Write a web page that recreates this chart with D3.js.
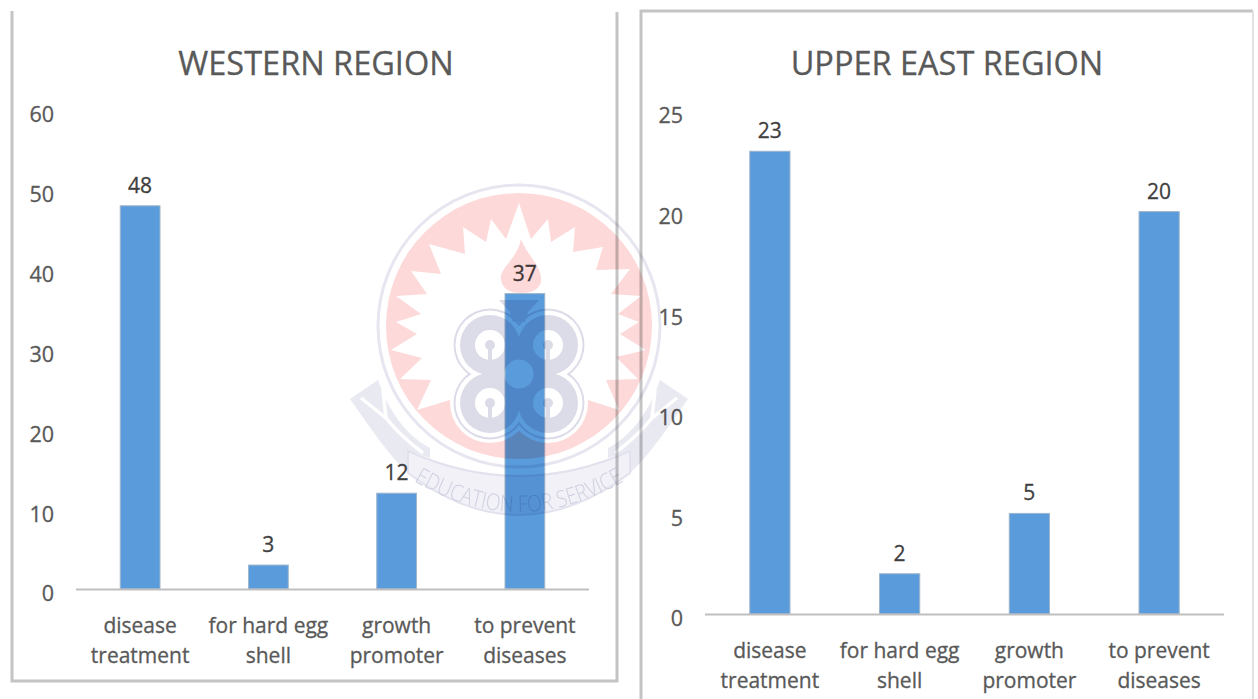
<!DOCTYPE html>
<html>
<head>
<meta charset="utf-8">
<script src="https://cdn.jsdelivr.net/npm/d3@7/dist/d3.min.js"></script>
<style>
html, body { margin: 0; padding: 0; background: #fff; }
svg { display: block; }
text { font-family: "Open Sans", sans-serif; fill: #595959; }
</style>
</head>
<body>
<svg id="chart" width="1258" height="699"></svg>
<script>
// Reasons for antibiotic use, by region
const categories = [["disease", "treatment"], ["for hard egg", "shell"], ["growth", "promoter"], ["to prevent", "diseases"]];
const westernValues = [48, 3, 12, 37];
const upperEastValues = [23, 2, 5, 20];
const westernTicks = [0, 10, 20, 30, 40, 50, 60];
const upperEastTicks = [0, 5, 10, 15, 20, 25];

const svg = d3.select("#chart");
const heavier = sel => sel.style("stroke", "currentColor").style("stroke-width", 0.3);

function drawPanel(cfg) {
  const g = svg.append("g");
  const x = d3.scaleBand().domain(d3.range(cfg.values.length)).range([cfg.x0, cfg.x1]).paddingInner(0.69).paddingOuter(0.345);
  const y = d3.scaleLinear().domain(cfg.domain).range([cfg.y0, cfg.yTop]);

  g.append("text").attr("x", cfg.titleX).attr("y", 75).attr("text-anchor", "middle")
    .attr("font-size", 32.5).style("fill", "#595959").style("color", "#595959").call(heavier).text(cfg.title);

  // value axis: labels only, no axis line
  const yAxis = d3.axisLeft(y).tickValues(cfg.ticks).tickSize(0).tickPadding(0);
  const ya = g.append("g").attr("transform", `translate(${cfg.labelX},${cfg.labelDy})`).call(yAxis);
  ya.select(".domain").remove();
  ya.selectAll("text").attr("font-size", 21.5).style("font-family", '"Open Sans", sans-serif')
    .style("fill", "#595959").style("color", "#595959").call(heavier);

  g.selectAll("rect.bar").data(cfg.values).join("rect").attr("class", "bar")
    .attr("x", (d, i) => x(i)).attr("width", x.bandwidth())
    .attr("y", d => y(d)).attr("height", d => cfg.y0 - y(d))
    .attr("fill", "#5a9bdb").attr("stroke", "#9fb6cc").attr("stroke-width", 1);

  g.append("line").attr("x1", cfg.x0).attr("x2", cfg.x1).attr("y1", cfg.y0 + 0.5).attr("y2", cfg.y0 + 0.5)
    .attr("stroke", "#bfbfbf").attr("stroke-width", 2);

  g.selectAll("text.val").data(cfg.values).join("text").attr("class", "val")
    .attr("x", (d, i) => x(i) + x.bandwidth() / 2).attr("y", d => y(d) - 13)
    .attr("text-anchor", "middle").attr("font-size", 21).style("fill", "#404040").style("color", "#404040")
    .call(heavier).text(d => d);

  const cats = g.selectAll("text.cat").data(categories).join("text").attr("class", "cat")
    .attr("text-anchor", "middle").attr("font-size", 21).style("fill", "#595959").style("color", "#595959").call(heavier);
  cats.each(function (lines, i) {
    d3.select(this).selectAll("tspan").data(lines).join("tspan")
      .attr("x", x(i) + x.bandwidth() / 2)
      .attr("y", (l, j) => cfg.y0 + 43.5 + j * 30)
      .text(l => l);
  });
}

drawPanel({ title: "WESTERN REGION", titleX: 316, values: westernValues, ticks: westernTicks, domain: [0, 60],
  x0: 76, x1: 589, y0: 589, yTop: 110, labelX: 54, labelDy: 5 });
drawPanel({ title: "UPPER EAST REGION", titleX: 947, values: upperEastValues, ticks: upperEastTicks, domain: [0, 25],
  x0: 705, x1: 1224, y0: 614, yTop: 111, labelX: 683, labelDy: 5 });

// Panel frames
const frames = [
  [[12, 11], [12, 681], [617, 681], [617, 12]],
  [[641, 699], [641, 11], [1253, 11]]
];
svg.append("g").selectAll("path").data(frames).join("path")
  .attr("d", d3.line()).attr("fill", "none").attr("stroke", "#c4c4c4").attr("stroke-width", 3);
svg.append("line").attr("x1", 1253).attr("x2", 1253).attr("y1", 11).attr("y2", 699)
  .attr("stroke", "#e2e2e2").attr("stroke-width", 2);

// Institutional seal laid over the charts
const seal = svg.append("g").style("mix-blend-mode", "multiply").attr("transform", "translate(519,326)");
const lav = "#dcdce9";
const pink = "#fdd9d9";

// ribbon tails and band, left side mirrored to the right
const tail = "M-169,73 L-141,54 C-128,92 -108,112 -89,122 L-89,132 L-111,125 L-111,147 C-130,130 -150,100 -169,73 Z";
const tailLine = "M-158,72 L-133,92 L-136,64 M-133,92 C-122,106 -108,118 -96,127";
[1, -1].forEach(sx => {
  const side = seal.append("g").attr("transform", `scale(${sx},1)`);
  side.append("path").attr("d", tail).attr("fill", "#e9e9f2");
  side.append("path").attr("d", tailLine).attr("fill", "none").attr("stroke", "#fff").attr("stroke-width", 3.5);
});
seal.append("path").attr("d", "M-111,125 Q0,175 111,125 L111,147 Q0,231 -111,147 Z")
  .attr("fill", "#f1f1f7").attr("stroke", "#e2e2ee").attr("stroke-width", 2);

seal.append("circle").attr("r", 141).attr("fill", "none").attr("stroke", "#e6e6f0").attr("stroke-width", 3);
seal.append("circle").attr("r", 133).attr("fill", pink);

// sunburst star in white over the disc
const starOutline = [[0, -123], [12, -87], [29, -107], [32, -84], [56, -99], [54, -74], [84, -79], [77, -56], [111, -57],
  [92, -32], [122, -30], [99, -12], [120, -4], [101, 8], [127, 24], [97, 31], [119, 53], [87, 54], [100, 84], [69, 74],
  [-69, 74], [-102, 84], [-88, 54], [-119, 53], [-97, 32], [-128, 24], [-102, 8], [-123, -4], [-98, -12], [-123, -30],
  [-92, -32], [-108, -55], [-78, -52], [-90, -82], [-54, -72], [-56, -99], [-33, -84], [-28, -107], [-13, -87]];
seal.append("path").attr("d", d3.line().curve(d3.curveLinearClosed)(starOutline)).attr("fill", "#fff");

// flame above the emblem
seal.append("path").attr("d", "M2,-87 C8,-70 24,-60 22,-44 C20,-36 12,-33 2,-33 C-8,-33 -16,-36 -18,-46 C-20,-58 -2,-66 2,-87 Z").attr("fill", pink);

// four-lobed emblem
const lobes = [[-29, -29], [29, -29], [-29, 29], [29, 29]];
const emblem = seal.append("g").attr("transform", "translate(0,48)");
const lobeRing = (cls, r, fill) => emblem.selectAll("circle." + cls).data(lobes).join("circle").attr("class", cls)
  .attr("cx", d => d[0]).attr("cy", d => d[1]).attr("r", r).attr("fill", fill);
lobeRing("halo", 40, "#fff");
lobeRing("edge", 36.5, lav);
lobeRing("gap", 34.5, "#fff");
lobeRing("lobe", 30, lav);
emblem.append("rect").attr("x", -22).attr("y", -22).attr("width", 44).attr("height", 44).attr("fill", lav);
emblem.append("path").attr("d", "M-20,-74 L20,-74 L9,-62 L6,-52 L-6,-52 L-9,-62 Z").attr("fill", lav);
lobeRing("hole", 15, "#fff");
emblem.selectAll("rect.slit").data(lobes).join("rect").attr("class", "slit")
  .attr("x", d => d[0] - 2).attr("y", d => d[1]).attr("width", 4).attr("height", 16).attr("fill", lav);
lobeRing("core", 5, lav);
emblem.append("circle").attr("r", 14.5).attr("fill", "#fff");

// motto along the ribbon
seal.append("path").attr("id", "mottoArc").attr("fill", "none").attr("d", "M-105,155 Q0,217 105,155");
seal.append("text").attr("font-size", 23).attr("font-weight", 300).style("fill", "#cfd0e0")
  .append("textPath").attr("href", "#mottoArc").attr("startOffset", "50%").attr("text-anchor", "middle")
  .attr("textLength", 222).attr("lengthAdjust", "spacingAndGlyphs")
  .text("EDUCATION FOR SERVICE");
</script>
</body>
</html>
